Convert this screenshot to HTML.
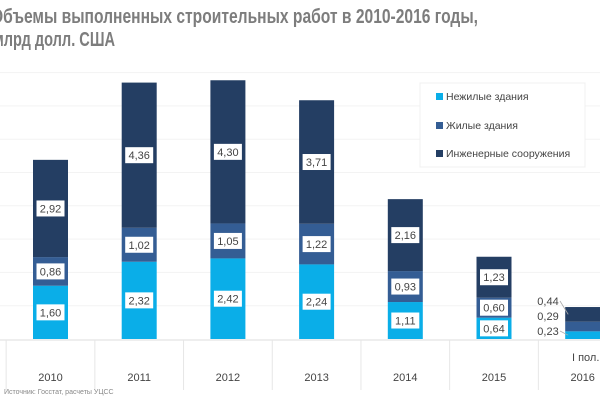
<!DOCTYPE html>
<html><head><meta charset="utf-8"><style>
html,body{margin:0;padding:0;background:#fff;width:600px;height:400px;overflow:hidden}
svg{display:block;font-family:"Liberation Sans",sans-serif}
</style></head><body>
<svg id="chart" width="600" height="400">
<text x="-9" y="23" font-size="20" font-weight="bold" fill="#7d7d7d" textLength="487" lengthAdjust="spacingAndGlyphs">Объемы выполненных строительных работ в 2010-2016 годы,</text>
<text x="-7" y="46" font-size="20" font-weight="bold" fill="#7d7d7d" textLength="122" lengthAdjust="spacingAndGlyphs">млрд долл. США</text>
<g id="grid"></g><g id="bars"></g><g id="axis"></g>
<g>
<rect x="420" y="83" width="165" height="84" fill="#fff" stroke="#f0f0f0"/>
<rect x="436" y="93" width="7" height="7" fill="#0aaee8"/><text x="446" y="100" font-size="10.5" fill="#444">Нежилые здания</text>
<rect x="436" y="122" width="7" height="7" fill="#345d94"/><text x="446" y="129" font-size="10.5" fill="#444">Жилые здания</text>
<rect x="436" y="150" width="7" height="7" fill="#243e63"/><text x="446" y="157" font-size="10.5" fill="#444">Инженерные сооружения</text>
</g>
<text x="4" y="394" font-size="7" fill="#888">Источник: Госстат, расчеты УЦСС</text>
</svg>
<script>
const years=["2010","2011","2012","2013","2014","2015","2016"];
const nonres=[1.60,2.32,2.42,2.24,1.11,0.64,0.23];
const resid=[0.86,1.02,1.05,1.22,0.93,0.60,0.29];
const eng=[2.92,4.36,4.30,3.71,2.16,1.23,0.44];
const NS="http://www.w3.org/2000/svg";
const base=339, pxU=33.3, x0=50.5, step=88.7, bw=35;
const y=v=>base-v*pxU, xc=i=>x0+i*step;
function mk(t,a,p){const e=document.createElementNS(NS,t);for(const k in a)e.setAttribute(k,a[k]);(p||document.getElementById('chart')).appendChild(e);return e;}
const grid=document.getElementById('grid'),bars=document.getElementById('bars'),axis=document.getElementById('axis');
for(let v=1;v<=8;v++){const l=mk('line',{x1:0,x2:600,y1:y(v),y2:y(v),stroke:'#f3f3f3','stroke-width':1},grid);

}
const al=mk('line',{x1:0,x2:600,y1:base+1,y2:base+1,stroke:'#ddd'},axis);


for(let i=0;i<=years.length;i++){const d=mk('line',{x1:xc(i)-step/2,x2:xc(i)-step/2,y1:base+1,y2:390,stroke:'#e6e6e6'},axis);

}
const series=[[nonres,'#0aaee8','nonresidential'],[resid,'#345d94','residential'],[eng,'#243e63','engineering']];
years.forEach((yr,i)=>{
 let acc=0;const cx=xc(i);
 series.forEach(([arr,col,nm],s)=>{
  const v=arr[i],top=y(acc+v),h=v*pxU;
  const r=mk('rect',{x:cx-bw/2,y:top,width:bw,height:h,fill:col},bars);
  
  
  const txt=v.toFixed(2).replace('.',',');
  if(i<years.length-1){
   const my=top+h/2;
   mk('rect',{x:cx-14,y:my-8,width:28,height:16,fill:'#fff'},bars);
   const t=mk('text',{x:cx,y:my+4,'text-anchor':'middle','font-size':11,fill:'#444'},bars);
   t.textContent=txt;
   
   
  } else {
   const ly=[y(0)-4,y(0)-19,y(0)-34][s];
   const t=mk('text',{x:548,y:ly,'text-anchor':'middle','font-size':11,fill:'#444'},bars);
   t.textContent=txt;
   
   
   if(s!==1){mk('line',{x1:560,y1:ly-4,x2:cx-bw/2+3,y2:top+h/2,stroke:'#aaa','stroke-width':0.8},bars);}
  }
  acc+=v;
 });
 const yl=mk('text',{x:cx,y:381,'text-anchor':'middle','font-size':11,fill:'#444'},axis);
 yl.textContent=yr;
 
 
});
const hl=mk('text',{x:xc(6)+3,y:361,'text-anchor':'middle','font-size':11,fill:'#444'},axis);
hl.textContent='I пол.';


</script>
</body></html>
